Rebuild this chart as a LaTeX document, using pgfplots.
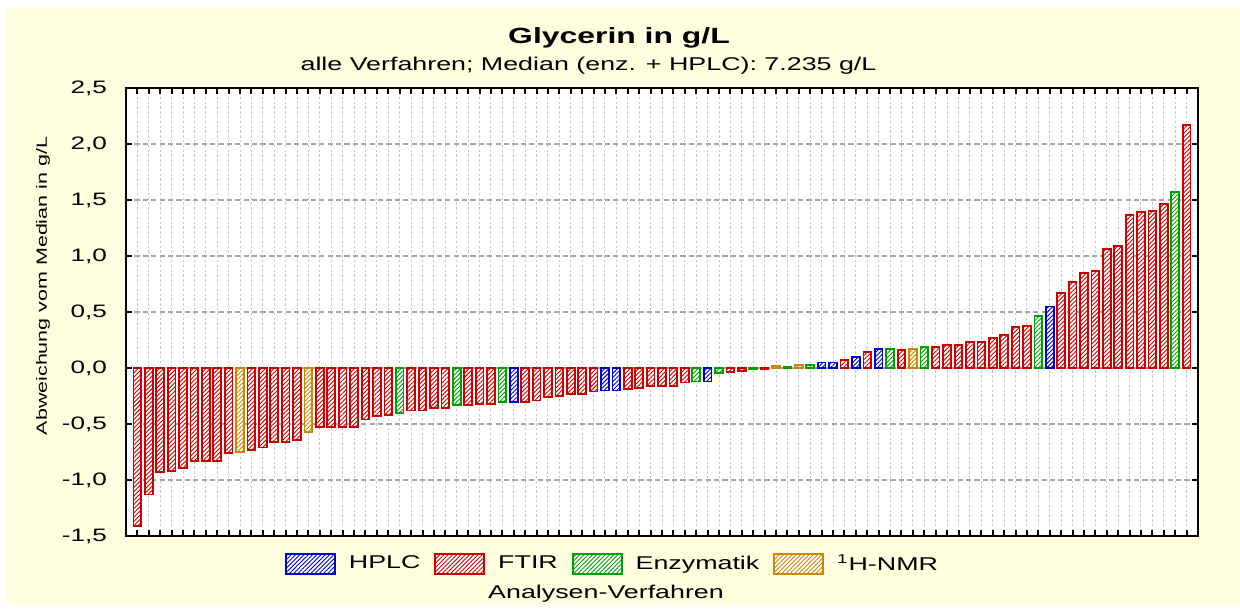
\documentclass[border=0pt]{standalone}
\usepackage{fontspec}
\setmainfont{Liberation Sans}[FakeStretch=1.45]
\usepackage{pgfplots}
\pgfplotsset{compat=1.18}
\usetikzlibrary{patterns.meta}
\definecolor{cR}{RGB}{204,0,0}
\definecolor{cB}{RGB}{0,0,204}
\definecolor{cG}{RGB}{0,160,0}
\definecolor{cO}{RGB}{204,136,0}
\definecolor{bgY}{RGB}{255,255,224}
\tikzset{
  hbar/.style={draw=#1, line width=0.9pt, fill=white,
    postaction={pattern={Lines[angle=45,distance=1.5pt,line width=0.45pt]}, pattern color=#1}},
}
\pgfplotsset{boxlegend/.style={legend image code/.code={\draw[##1] (0pt,-5pt) rectangle (24.5pt,5pt);}}}
\begin{document}
\begin{tikzpicture}
\fill[white] (-63pt,-34.5pt) rectangle (557pt,268pt);
\fill[bgY] (-60pt,-34.5pt) rectangle (557pt,264pt);
\begin{axis}[
  at={(0pt,0pt)}, anchor=south west,
  scale only axis, width=536pt, height=224pt,
  xmin=0, xmax=94, ymin=-1.5, ymax=2.5,
  ybar, bar width=0.68,
  axis background/.style={fill=white},
  axis line style={line width=1.1pt},
  xtick={1,...,93}, xticklabels={},
  ytick={-1.5,-1,-0.5,0,0.5,1,1.5,2,2.5},
  xtick pos=both, ytick pos=both, yticklabel pos=left,
  tick align=inside,
  major tick length=3pt,
  tick style={line width=1pt, black},
  xmajorgrids, ymajorgrids,
  x grid style={line width=0.5pt, gray!45, dash pattern=on 1.2pt off 1.2pt},
  y grid style={line width=0.7pt, gray!70, dash pattern=on 2.6pt off 1.6pt},
  /pgf/number format/assume math mode=true,
  yticklabel style={/pgf/number format/fixed, /pgf/number format/fixed zerofill,
    /pgf/number format/precision=1, /pgf/number format/use comma, xshift=-6pt},
  ticklabel style={font=\fontsize{9}{10}\selectfont},
  ylabel={Abweichung vom Median in g/L},
  ylabel style={font=\fontsize{7.4}{8}\selectfont, at={(axis description cs:-0.0774,0.558)}, anchor=center},
  xlabel={Analysen-Verfahren},
  xlabel style={font=\fontsize{9.25}{10}\selectfont, at={(axis description cs:0.4478,0)}, anchor=base, yshift=-31pt},
  legend columns=4,
  legend style={draw=none, fill=none, at={(rel axis cs:0.4548,-0.0625)}, anchor=center,
    font=\fontsize{9.25}{10}\selectfont,
    /tikz/every odd column/.append style={column sep=4.5pt},
    /tikz/every even column/.append style={column sep=5pt}},
]
\addplot[hbar=cB, bar shift=0pt, boxlegend] coordinates {
(34,-0.30) (42,-0.20) (43,-0.20) (51,-0.12) (61,0.05) (62,0.05) (64,0.10) (66,0.17) (81,0.55)};
\addplot[hbar=cR, bar shift=0pt, boxlegend] coordinates {
(1,-1.41) (2,-1.13) (3,-0.93) (4,-0.92) (5,-0.89) (6,-0.83) (7,-0.83) (8,-0.83) (9,-0.76)
(11,-0.73) (12,-0.71) (13,-0.66) (14,-0.66) (15,-0.64)
(17,-0.53) (18,-0.53) (19,-0.53) (20,-0.53) (21,-0.46) (22,-0.43) (23,-0.42)
(25,-0.38) (26,-0.38) (27,-0.36) (28,-0.36) (30,-0.33) (31,-0.32) (32,-0.32)
(35,-0.30) (36,-0.29) (37,-0.26) (38,-0.25) (39,-0.23) (40,-0.23) (41,-0.21)
(44,-0.19) (45,-0.18) (46,-0.16) (47,-0.16) (48,-0.16) (49,-0.13)
(53,-0.035) (54,-0.03) (56,-0.01) (63,0.07) (65,0.14) (68,0.16)
(71,0.19) (72,0.205) (73,0.205) (74,0.23) (75,0.23) (76,0.265) (77,0.295) (78,0.366) (79,0.372)
(82,0.667) (83,0.765) (84,0.845) (85,0.866) (86,1.065) (87,1.086) (88,1.369) (89,1.396) (90,1.405) (91,1.467)
(93,2.17)};
\addplot[hbar=cG, bar shift=0pt, boxlegend] coordinates {
(24,-0.40) (29,-0.33) (33,-0.30) (50,-0.12) (52,-0.045) (55,-0.01) (58,0.01) (60,0.03) (67,0.17) (70,0.19) (80,0.464) (92,1.568)};
\addplot[hbar=cO, bar shift=0pt, boxlegend] coordinates {
(10,-0.75) (16,-0.57) (57,0.02) (59,0.03) (69,0.17)};
\legend{HPLC, FTIR, Enzymatik, \textsuperscript{1}H-NMR}
\end{axis}
\node[font=\bfseries\fontsize{11}{13}\selectfont, anchor=base] at (246.5pt,246.5pt) {Glycerin in g/L};
\node[font=\fontsize{9.25}{11}\selectfont, anchor=base] at (231.25pt,233pt) {alle Verfahren; Median (enz. + HPLC): 7.235 g/L};
\end{tikzpicture}
\end{document}
